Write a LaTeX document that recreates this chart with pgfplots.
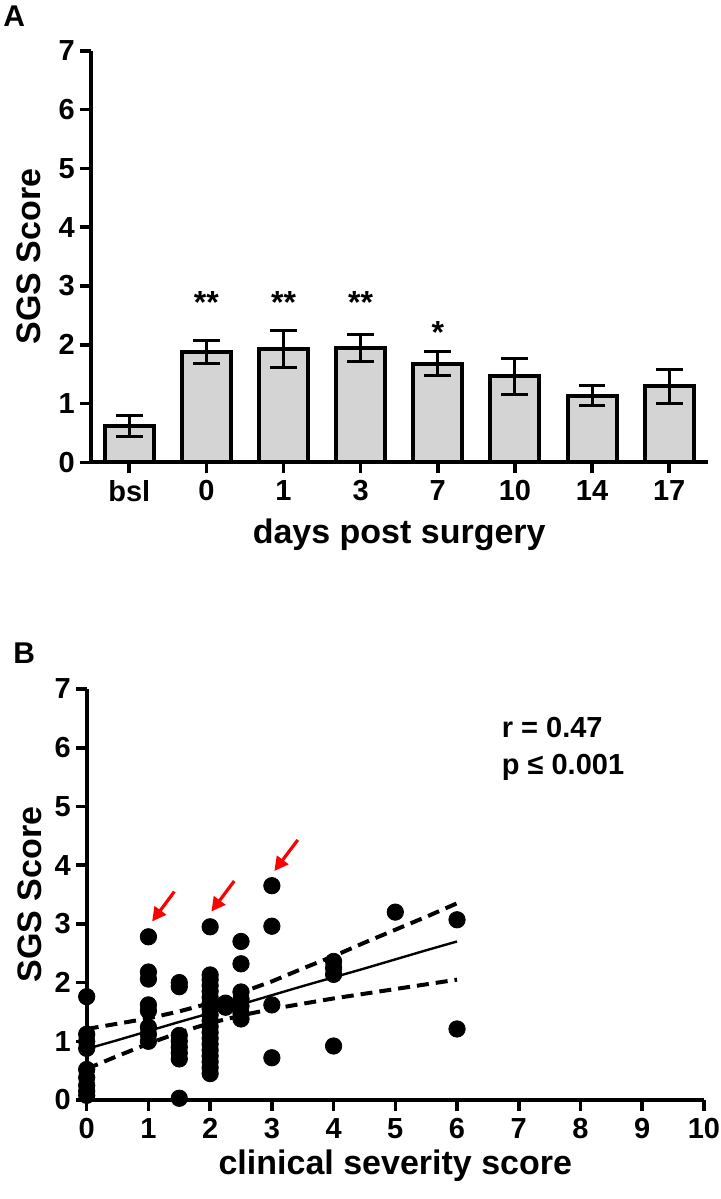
\documentclass[border=0pt]{standalone}
\usepackage{fontspec}
\setmainfont{Liberation Sans}
\usepackage{pgfplots}
\pgfplotsset{compat=1.18}
\usetikzlibrary{arrows.meta}

\pgfplotstableread{
x y err
0 0.62 0.18
1 1.88 0.20
2 1.93 0.32
3 1.94 0.23
4 1.68 0.20
5 1.46 0.31
6 1.13 0.17
7 1.29 0.29
}\barsA

\pgfplotstableread{
x y
0 1.76
0 1.12
0 1.00
0 0.88
0 0.52
0 0.38
0 0.25
0 0.15
0 0.08
1 2.78
1 2.18
1 2.06
1 1.62
1 1.52
1 1.24
1 1.12
1 1.00
1.5 2.00
1.5 1.93
1.5 1.10
1.5 1.00
1.5 0.90
1.5 0.80
1.5 0.70
1.5 0.03
2 2.95
2 2.13
2 2.05
2 1.95
2 1.85
2 1.75
2 1.65
2 1.55
2 1.45
2 1.35
2 1.25
2 1.15
2 1.05
2 0.95
2 0.85
2 0.75
2 0.65
2 0.55
2 0.45
2.25 1.65
2.25 1.58
2.5 2.70
2.5 2.32
2.5 1.84
2.5 1.72
2.5 1.60
2.5 1.48
2.5 1.38
3 3.65
3 2.96
3 1.62
3 0.72
4 2.36
4 2.25
4 2.14
4 0.92
5 3.20
6 3.07
6 1.21
}\scatterB

\pgfplotstableread{
x fit upper lower
0 0.87 1.21 0.53
0.5 1.02 1.30 0.75
1 1.175 1.39 0.96
1.5 1.33 1.51 1.15
2 1.48 1.65 1.31
2.5 1.63 1.83 1.44
3 1.785 2.02 1.55
3.5 1.94 2.24 1.64
4 2.09 2.45 1.73
4.5 2.24 2.68 1.81
5 2.395 2.90 1.89
5.5 2.55 3.12 1.97
6 2.70 3.35 2.05
}\fitB

\definecolor{bargray}{RGB}{212,212,212}

\pgfplotsset{
  myaxis/.style={
    scale only axis,
    axis x line*=bottom,
    axis y line*=left,
    axis line style={line width=2pt},
    major tick style={line width=1.8pt, black},
    tick align=outside,
    major tick length=5.5pt,
    ymin=0, ymax=7,
    ytick={0,1,...,7},
    /pgf/number format/assume math mode=true,
    tick label style={font=\bfseries\fontsize{14.5}{15}\selectfont},
    yticklabel style={xshift=1pt},
    label style={font=\bfseries\fontsize{17}{18}\selectfont},
    clip=false,
  }
}

\begin{document}
\begin{tikzpicture}
\useasboundingbox (0,0) rectangle (360.5pt,-599.5pt);

% Panel label A
\node[anchor=north west, inner sep=0pt, font=\bfseries\fontsize{15}{15}\selectfont] at (1.5pt,-2.5pt) {A};

\begin{axis}[myaxis,
  at={(45.35pt,-231.15pt)}, anchor=south west,
  width=308.5pt, height=205.8pt,
  xmin=-0.5, xmax=7.5,
  xtick={0,...,7},
  xticklabels={bsl,0,1,3,7,10,14,17},
  xlabel={days post surgery},
  xlabel style={at={(axis description cs:0.5,-0.175)}, anchor=center},
  ylabel={SGS Score},
  ylabel style={at={(axis description cs:-0.1,0.5)}, anchor=center},
]
\addplot[ybar, bar width=24.5pt, fill=bargray, draw=black, line width=2pt,
  error bars/.cd, y dir=both, y explicit,
  error bar style={line width=1.5pt, black},
  error mark options={rotate=90, mark size=6.7pt, line width=1.5pt, black}]
  table[x=x, y=y, y error=err] {\barsA};
\node[font=\bfseries\fontsize{16}{16}\selectfont] at (axis cs:1,2.72) {**};
\node[font=\bfseries\fontsize{16}{16}\selectfont] at (axis cs:2,2.72) {**};
\node[font=\bfseries\fontsize{16}{16}\selectfont] at (axis cs:3,2.72) {**};
\node[font=\bfseries\fontsize{16}{16}\selectfont] at (axis cs:4,2.21) {*};
\end{axis}

% Panel label B
\node[anchor=north west, inner sep=0pt, font=\bfseries\fontsize{15}{15}\selectfont] at (6.5pt,-321pt) {B};

\begin{axis}[myaxis,
  at={(43.35pt,-550pt)}, anchor=south west,
  width=308.6pt, height=205.5pt,
  xmin=0, xmax=10,
  xtick={0,1,...,10},
  xlabel={clinical severity score},
  xlabel style={at={(axis description cs:0.5,-0.16)}, anchor=center},
  ylabel={SGS Score},
  ylabel style={at={(axis description cs:-0.093,0.5)}, anchor=center},
]
\addplot[only marks, mark=*, mark size=4.1pt, black] table[x=x, y=y] {\scatterB};
\addplot[black, line width=1.2pt] table[x=x, y=fit] {\fitB};
\addplot[black, line width=2pt, dash pattern=on 6pt off 3.5pt] table[x=x, y=upper] {\fitB};
\addplot[black, line width=2pt, dash pattern=on 6pt off 3.5pt] table[x=x, y=lower] {\fitB};
\draw[red, line width=1.6pt, -{Triangle[length=7pt,width=7pt]}] (axis cs:1.42,3.55) -- (axis cs:1.06,3.04);
\draw[red, line width=1.6pt, -{Triangle[length=7pt,width=7pt]}] (axis cs:2.39,3.73) -- (axis cs:2.02,3.21);
\draw[red, line width=1.6pt, -{Triangle[length=7pt,width=7pt]}] (axis cs:3.42,4.43) -- (axis cs:3.04,3.90);
\node[anchor=west, inner sep=0pt, font=\bfseries\fontsize{14.5}{15}\selectfont] at (axis cs:6.72,6.35) {r = 0.47};
\node[anchor=west, inner sep=0pt, font=\bfseries\fontsize{14.5}{15}\selectfont] at (axis cs:6.72,5.67) {p ≤ 0.001};
\end{axis}
\end{tikzpicture}
\end{document}
